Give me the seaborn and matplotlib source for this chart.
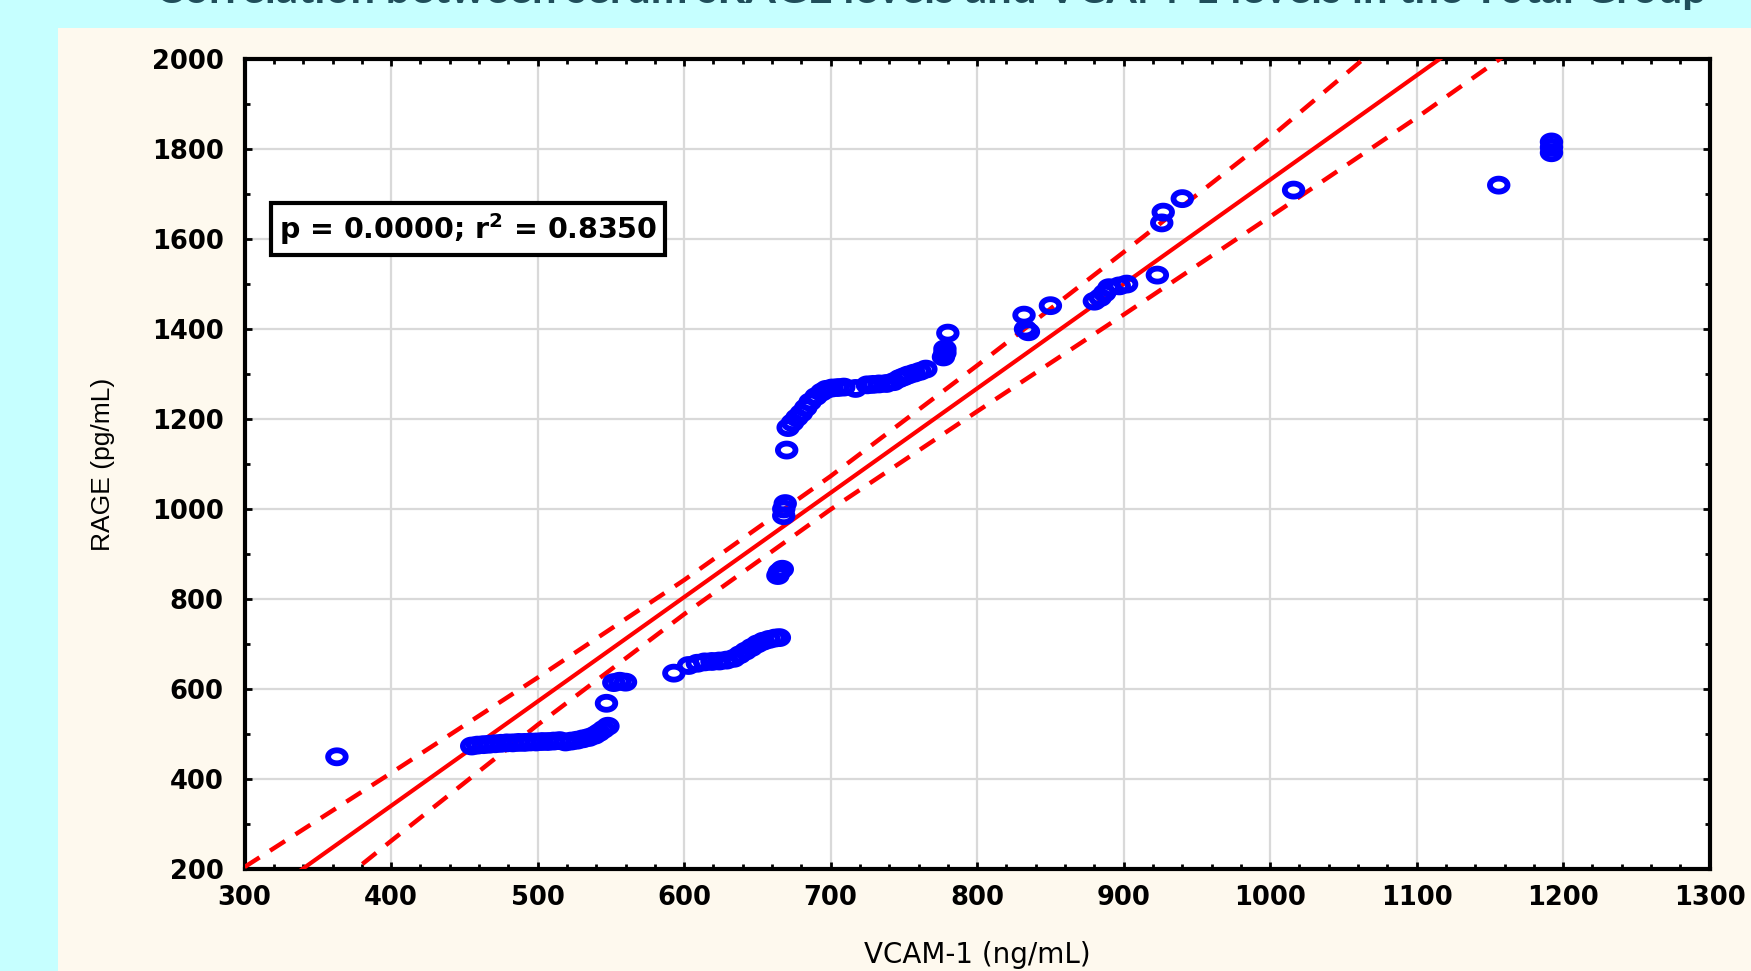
import numpy as np
import pandas as pd
import matplotlib
matplotlib.use("Agg")
import matplotlib.pyplot as plt
from matplotlib.path import Path
from matplotlib.patches import Rectangle
from matplotlib.ticker import MultipleLocator
import seaborn as sns

# ---------------- data ----------------
vcam = [363,
        455, 459, 463, 467, 471, 475, 479, 483, 487, 491, 495, 499, 503, 507, 511, 515,
        519, 523, 527, 531, 535, 539, 542, 545, 548,
        547,
        552, 556, 560,
        593,
        603, 609, 614, 619, 624, 629, 634, 638, 642, 646, 650, 654, 658, 662, 665,
        664, 665, 667,
        668, 668, 669,
        670,
        671, 674, 677, 680, 683, 686, 690, 694, 697, 701, 705, 709, 717, 725, 729, 733, 738,
        743, 747, 750, 753, 757, 761, 765,
        777, 778, 778, 780,
        832, 833, 835,
        850,
        880, 884, 887, 890, 897, 902,
        923,
        926, 927,
        940,
        1016,
        1156,
        1192, 1192, 1192]
rage = [449,
        473, 475, 476, 477, 478, 479, 480, 480, 481, 481, 482, 482, 483, 483, 484, 485,
        482, 484, 486, 489, 492, 497, 503, 510, 517,
        568,
        614, 617, 615,
        635,
        652, 657, 660, 661, 662, 664, 668, 676, 684, 692, 700, 706, 710, 713, 714,
        852, 860, 866,
        985, 1000, 1012,
        1131,
        1181, 1192, 1203, 1213, 1225, 1238, 1250, 1260, 1266, 1269, 1270, 1271, 1268, 1276, 1277, 1278, 1279,
        1283, 1290, 1294, 1298, 1302, 1306, 1311,
        1338, 1347, 1356, 1391,
        1431, 1400, 1394,
        1452,
        1462, 1470, 1480, 1492, 1496, 1500,
        1520,
        1636, 1660,
        1690,
        1709,
        1720,
        1792, 1804, 1816]

# regression line and 95% confidence band
fit_x = [300, 1300]
fit_y = [108, 2428]
band_x = [300, 400, 500, 600, 700, 800, 900, 1000, 1100, 1200, 1300]
band_upper = [204, 413, 625, 842, 1073, 1319, 1571, 1826, 2100, 2350, 2600]
band_lower = [0, 262, 520, 766, 999, 1217, 1432, 1650, 1870, 2100, 2320]

x_ticks = [300, 400, 500, 600, 700, 800, 900, 1000, 1100, 1200, 1300]
y_ticks = [200, 400, 600, 800, 1000, 1200, 1400, 1600, 1800, 2000]

title_text = "Correlation between serum sRAGE levels and VCAM-1 levels in the Total Group"
stat_text = r"p = 0.0000; r$^{\mathbf{2}}$ = 0.8350"
x_label = "VCAM-1 (ng/mL)"
y_label = "RAGE (pg/mL)"

# ---------------- styling ----------------
sns.set_theme(style="whitegrid")
plt.rcParams["font.family"] = ["DejaVu Sans"]

W, H = 1751, 971
fig = plt.figure(figsize=(W / 100, H / 100), dpi=100, facecolor="#C6FFFF")
panel = Rectangle((58 / W, 0), 1 - 58 / W, 1 - 28 / H,
                  transform=fig.transFigure, facecolor="#FEF9EE",
                  edgecolor="none", zorder=-10)
fig.patches.append(panel)

ax = fig.add_axes([244.6 / W, 1 - 868.8 / H, 1465.1 / W, 809.6 / H])
ax.set_zorder(1)
ax.set_facecolor("white")

df = pd.DataFrame({"vcam": vcam, "rage": rage})
fit_df = pd.DataFrame({"x": fit_x, "y": fit_y})
band_df = pd.DataFrame({"x": band_x, "upper": band_upper, "lower": band_lower})

# elliptical open marker (reference image is horizontally stretched)
t = np.linspace(0, 2 * np.pi, 40)
ell = Path(np.column_stack([0.5 * np.cos(t), 0.37 * np.sin(t)]), closed=True)

sns.lineplot(data=band_df, x="x", y="upper", ax=ax, color="#FF0000", lw=3.2,
             linestyle=(0, (4.0, 2.8)), estimator=None, sort=False, zorder=3)
sns.lineplot(data=band_df, x="x", y="lower", ax=ax, color="#FF0000", lw=3.2,
             linestyle=(0, (4.0, 2.8)), estimator=None, sort=False, zorder=3)
sns.lineplot(data=fit_df, x="x", y="y", ax=ax, color="#FF0000", lw=3.0,
             estimator=None, sort=False, zorder=3)
sns.scatterplot(data=df, x="vcam", y="rage", ax=ax, marker=ell, s=160,
                facecolors="none", edgecolor="#0000FF", linewidth=4.2, zorder=4)

ax.set_xlim(300, 1300)
ax.set_ylim(200, 2000)
ax.set_xticks(x_ticks)
ax.set_yticks(y_ticks)
ax.xaxis.set_minor_locator(MultipleLocator(20))
ax.yaxis.set_minor_locator(MultipleLocator(100))
ax.grid(True, which="major", color="#D9D9D9", lw=1.6)
ax.grid(False, which="minor")

for sp in ax.spines.values():
    sp.set_visible(True)
    sp.set_color("black")
    sp.set_linewidth(3.0)

ax.tick_params(which="both", direction="in", top=True, right=True,
               bottom=True, left=True, color="black")
ax.tick_params(which="major", length=5, width=2)
ax.tick_params(which="minor", length=3.5, width=2)
ax.tick_params(axis="x", which="major", pad=12)
ax.tick_params(axis="y", which="major", pad=15)
for lbl in ax.get_xticklabels() + ax.get_yticklabels():
    lbl.set_fontsize(18.5)
    lbl.set_fontweight("bold")
    lbl.set_color("black")

ax.set_xlabel(x_label, fontsize=20, family="DejaVu Sans", color="black")
ax.set_ylabel(y_label, fontsize=19, family="Liberation Sans", color="black")
ax.xaxis.set_label_coords(0.5, -0.089)
ax.yaxis.label.set_va("top")
ax.xaxis.label.set_va("top")
ax.yaxis.set_label_coords((100 - 244.6) / 1465.1 - 0.006, 0.5)

ax.text(0.0173 + 0.006, 0.790, stat_text, transform=ax.transAxes,
        fontsize=20.5, fontweight="bold", color="black", ha="left", va="center",
        bbox=dict(boxstyle="square,pad=0.28", facecolor="white",
                  edgecolor="black", linewidth=3.0), zorder=6)

fig.text(931 / W, 1 - 3 / H, title_text, ha="center", va="baseline",
         fontsize=31.5, fontweight="bold", color="#1F4E5A", family="Lato")

fig.savefig("out.png", dpi=100, facecolor=fig.get_facecolor())
